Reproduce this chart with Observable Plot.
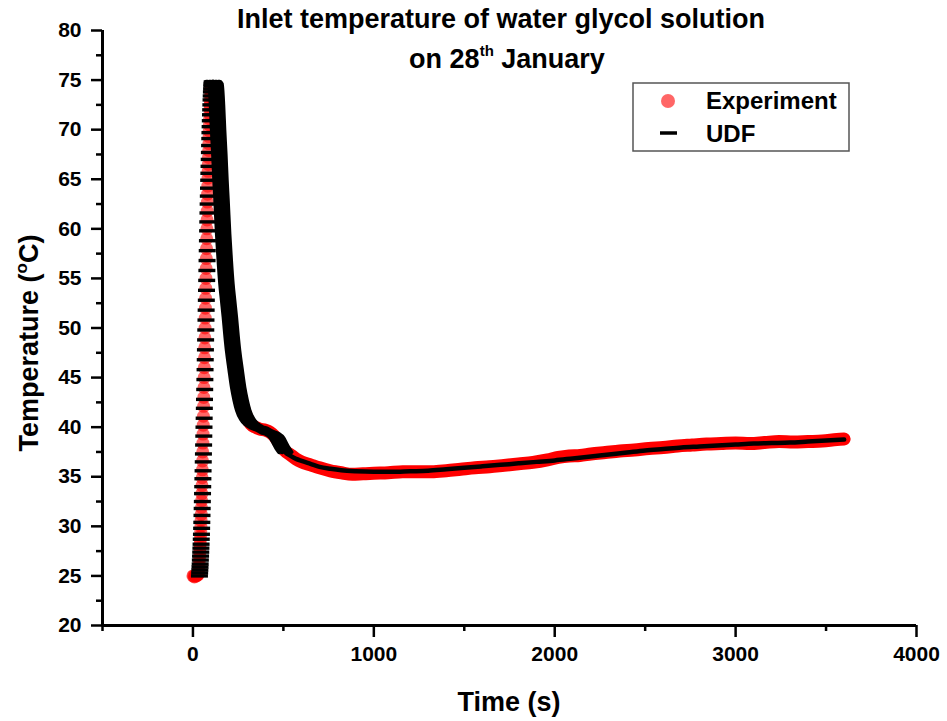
<!DOCTYPE html>
<html><head><meta charset="utf-8">
<script src="https://cdn.jsdelivr.net/npm/d3@7"></script>
<script src="https://cdn.jsdelivr.net/npm/@observablehq/plot@0.6"></script>
<style>body{margin:0;background:#fff} #chart{width:947px;height:721px}</style>
</head><body><div id="chart"></div>
<script>
// ---- tick labels ----
const xMajor = [0, 1000, 2000, 3000, 4000];
const xMinor = [-500, 500, 1500, 2500, 3500];
const yMajor = [20, 25, 30, 35, 40, 45, 50, 55, 60, 65, 70, 75, 80];
const yMinor = [22.5, 27.5, 32.5, 37.5, 42.5, 47.5, 52.5, 57.5, 62.5, 67.5, 72.5, 77.5];
const seriesNames = ["Experiment", "UDF"];

// ---- Experiment (time s, temperature °C) ----
const expTime = [0, 4, 8, 12, 16, 20, 24, 28, 31,
  32, 33, 34, 35, 36, 37, 38, 39, 40, 41, 42, 43, 44, 45, 46, 47, 48, 49, 50, 51,
  52, 53, 54, 55, 56, 57, 58, 59, 60, 61, 62, 63, 64, 65, 66, 67, 68, 69, 70, 71,
  72, 73, 74, 75, 76, 77, 78, 79, 80, 81, 82, 83, 84, 85, 86, 87, 88, 89, 90, 91,
  92, 93, 94, 95, 96, 97, 98, 99, 100,
  110, 120, 130, 140, 150, 160, 170, 180, 195, 210, 225, 240, 255, 270, 285, 300,
  320, 345, 370, 400, 425, 450, 470, 490, 510, 540, 570, 600, 650, 700, 760, 820,
  880, 940, 1000, 1080, 1160, 1240, 1320, 1400, 1480, 1560, 1640, 1720, 1800, 1880,
  1960, 2020, 2080, 2140, 2200, 2280, 2360, 2440, 2520, 2600, 2680, 2760, 2840, 2920,
  3000, 3080, 3160, 3240, 3320, 3400, 3480, 3560, 3600];
const expTemp = [25.0, 25.0, 24.9, 25.0, 25.0, 25.0, 25.1, 25.1, 25.2,
  25.4, 25.7, 26.0, 26.3, 26.7, 27.0, 27.4, 27.8, 28.2, 28.6, 29.0, 29.5, 30.0, 30.6, 31.2, 31.9, 32.6, 33.3, 34.1, 34.9,
  35.7, 36.6, 37.5, 38.4, 39.3, 40.2, 41.1, 42.1, 43.0, 44.0, 45.0, 46.0, 47.0, 48.0, 49.0, 50.0, 51.0, 52.0, 53.0, 54.0,
  55.0, 56.0, 57.0, 58.0, 59.0, 60.0, 60.9, 61.8, 62.7, 63.5, 64.3, 65.1, 65.8, 66.5, 67.2, 67.9, 68.6, 69.3, 69.9, 70.5,
  71.1, 71.6, 72.1, 72.5, 72.9, 73.3, 73.6, 73.9, 74.1,
  73.9, 73.2, 71.8, 69.2, 65.5, 62.0, 58.5, 55.5, 52.5, 49.8, 47.3, 45.5, 44.0, 42.6, 41.6, 40.9,
  40.3, 40.0, 39.8, 39.7, 39.5, 39.1, 38.6, 38.1, 37.6, 37.2, 36.8, 36.5, 36.2, 35.9, 35.6, 35.4,
  35.25, 35.3, 35.35, 35.4, 35.5, 35.5, 35.5, 35.6, 35.75, 35.9, 36.0, 36.15, 36.3, 36.45,
  36.7, 36.95, 37.1, 37.15, 37.3, 37.45, 37.6, 37.7, 37.85, 37.95, 38.1, 38.2, 38.3, 38.35,
  38.4, 38.35, 38.45, 38.55, 38.5, 38.55, 38.6, 38.75, 38.8];

// ---- UDF (time s, temperature °C) ----
const udfTime = [36, 37, 38, 39, 40, 41, 42, 43, 44, 45, 46, 47, 48, 49, 50, 51, 52, 53, 54, 55,
  56, 57, 58, 59, 60, 61, 62, 63, 64, 65, 66, 67, 68, 69, 70, 71, 72, 73, 74, 75,
  76, 77, 78, 79, 80, 81, 82, 83, 84, 85, 86, 87, 88, 89, 90, 91, 92, 93, 94, 95,
  96, 97, 98, 99, 100, 101, 102, 103, 104, 105, 106,
  115, 125, 133, 139, 146, 152, 158, 167, 176, 185, 195, 204, 213, 222, 236, 250,
  264, 278, 300, 324, 350, 380, 410, 440, 465, 480, 495, 510, 540, 570, 600, 650,
  700, 760, 820, 900, 1000, 1100, 1200, 1300, 1400, 1500, 1600, 1700, 1800, 1900,
  2000, 2100, 2200, 2300, 2400, 2500, 2600, 2700, 2800, 2900, 3000, 3100, 3200,
  3300, 3400, 3500, 3600];
const udfTemp = [25.0, 25.3, 25.6, 25.9, 26.2, 26.6, 27.0, 27.4, 27.8, 28.2, 28.7, 29.2, 29.8, 30.4, 31.1, 31.8, 32.5, 33.3, 34.0, 34.8,
  35.6, 36.5, 37.3, 38.2, 39.1, 40.0, 40.9, 41.9, 42.8, 43.8, 44.8, 45.8, 46.8, 47.8, 48.8, 49.8, 50.8, 51.8, 52.8, 53.8,
  54.8, 55.8, 56.8, 57.8, 58.8, 59.8, 60.7, 61.6, 62.5, 63.3, 64.1, 64.9, 65.6, 66.3, 67.0, 67.7, 68.4, 69.1, 69.7, 70.3,
  70.9, 71.5, 72.0, 72.5, 73.0, 73.4, 73.8, 74.1, 74.4, 74.6, 74.8,
  74.8, 74.6, 72.5, 70.0, 67.5, 65.0, 62.9, 59.5, 56.8, 54.5, 52.7, 51.1, 49.3, 47.7, 45.8, 44.0,
  42.7, 41.7, 40.8, 40.3, 40.0, 39.8, 39.5, 39.3, 38.9, 38.4, 37.9, 37.5, 37.1, 36.8, 36.6, 36.3,
  36.0, 35.8, 35.65, 35.55, 35.5, 35.5, 35.55, 35.6, 35.75, 35.9, 36.05, 36.2, 36.35, 36.5,
  36.65, 36.85, 37.05, 37.25, 37.45, 37.65, 37.8, 37.95, 38.05, 38.15, 38.25, 38.35, 38.4,
  38.45, 38.55, 38.65, 38.75];

// ---- build tables ----
const expData = expTime.map((t, i) => ({t, T: expTemp[i]}));
const udfData = udfTime.map((t, i) => ({t, T: udfTemp[i]}));
const expPeak = d3.maxIndex(expTemp);
const udfPeak = d3.maxIndex(udfTemp);
const expRise = expData.slice(0, expPeak + 1);
const expFall = expData.slice(expPeak);
const udfRise = udfData.slice(0, udfPeak + 1);
const udfFall = udfData.slice(udfPeak);
const udfSteep = udfFall.filter(d => d.t <= 520);

// horizontal dash symbol (Origin-style "—" marker)
const dashSymbol = {
  draw(context, size) {
    const w = Math.sqrt(size / Math.PI);
    context.moveTo(-w, 0);
    context.lineTo(w, 0);
  }
};

const FONT = "'Liberation Sans', Arial, Helvetica, sans-serif";

const svgNode = Plot.plot({
  width: 947,
  height: 721,
  marginLeft: 102,
  marginRight: 31,
  marginTop: 30,
  marginBottom: 96,
  x: {domain: [-500, 4000]},
  y: {domain: [20, 80]},
  style: {fontFamily: FONT, fontWeight: "bold", background: "white", color: "black"},
  marks: [
    // experiment: dense red dots (band after the peak)
    Plot.line(expFall, {x: "t", y: "T", stroke: "#ff0000", strokeWidth: 13, curve: "monotone-x"}),
    Plot.dot(expRise, {x: "t", y: "T", r: 6.5, fill: "#ff0000", fillOpacity: 0.6}),
    // UDF: black dash markers
    Plot.dot(udfRise, {x: "t", y: "T", symbol: dashSymbol, r: 8.5, fill: "none", stroke: "black", strokeWidth: 3.4}),
    ...[-6, -3, 0, 3, 6].map(dx => Plot.line(udfSteep, {x: "t", y: "T", dx, stroke: "black", strokeWidth: 4.5, curve: "monotone-x"})),
    Plot.line(udfFall, {x: "t", y: "T", stroke: "black", strokeWidth: 4.5, curve: "monotone-x"}),
    // axes
    Plot.ruleX([-500], {strokeWidth: 3}),
    Plot.ruleY([20], {strokeWidth: 3}),
    Plot.axisY({ticks: yMajor, tickSize: 11, tickPadding: 10, fontSize: 21, strokeWidth: 2.5, label: null, tickFormat: d => String(d)}),
    Plot.axisY({ticks: yMinor, tickSize: 6, strokeWidth: 2.5, label: null, tickFormat: () => ""}),
    Plot.axisX({ticks: xMajor, tickSize: 12, tickPadding: 9, fontSize: 21, strokeWidth: 2.5, label: null, tickFormat: d => String(d)}),
    Plot.axisX({ticks: xMinor, tickSize: 6, strokeWidth: 2.5, label: null, tickFormat: () => ""})
  ]
});

const svg = d3.select(svgNode);
svg.style("font-weight", "bold");

// title
svg.append("text").attr("x", 501).attr("y", 28).attr("text-anchor", "middle")
  .attr("font-size", 27).attr("font-weight", "bold").attr("fill", "black")
  .text("Inlet temperature of water glycol solution");
const t2 = svg.append("text").attr("x", 507).attr("y", 68).attr("text-anchor", "middle")
  .attr("font-size", 27).attr("font-weight", "bold").attr("fill", "black");
t2.append("tspan").text("on 28");
t2.append("tspan").attr("font-size", 15).attr("dy", -12).text("th");
t2.append("tspan").attr("dy", 12).text(" January");

// axis titles
svg.append("text").attr("x", 509).attr("y", 711).attr("text-anchor", "middle")
  .attr("font-size", 27).attr("font-weight", "bold").attr("fill", "black").text("Time (s)");
const yl = svg.append("text").attr("transform", "translate(38,343) rotate(-90)").attr("text-anchor", "middle")
  .attr("font-size", 27).attr("font-weight", "bold").attr("fill", "black");
yl.append("tspan").text("Temperature (");
yl.append("tspan").attr("font-size", 17).attr("dy", -11).text("o");
yl.append("tspan").attr("dy", 11).text("C)");

// legend
const lg = svg.append("g").attr("text-anchor", "start");
lg.append("rect").attr("x", 633).attr("y", 83).attr("width", 216).attr("height", 68)
  .attr("fill", "white").attr("stroke", "#555").attr("stroke-width", 1.5);
lg.append("circle").attr("cx", 668).attr("cy", 101).attr("r", 7).attr("fill", "#ff0000").attr("fill-opacity", 0.6);
lg.append("line").attr("x1", 660).attr("x2", 677).attr("y1", 133).attr("y2", 133)
  .attr("stroke", "black").attr("stroke-width", 3.5);
lg.append("text").attr("x", 706).attr("y", 109).attr("text-anchor", "start").attr("font-size", 24)
  .attr("font-weight", "bold").attr("fill", "black").text(seriesNames[0]);
lg.append("text").attr("x", 706).attr("y", 142).attr("text-anchor", "start").attr("font-size", 24)
  .attr("font-weight", "bold").attr("fill", "black").text(seriesNames[1]);

document.getElementById("chart").appendChild(svgNode);
</script></body></html>
